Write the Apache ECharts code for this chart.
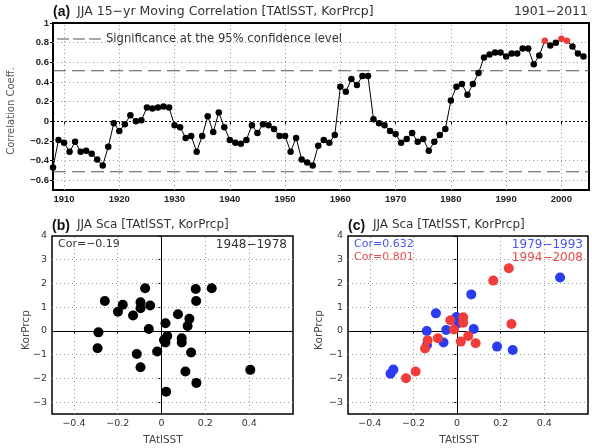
<!DOCTYPE html>
<html>
<head>
<meta charset="utf-8">
<script src="https://cdn.jsdelivr.net/npm/echarts@6/dist/echarts.min.js"></script>
<style>
  html, body { margin: 0; padding: 0; background: #fff; }
  #chart { width: 592px; height: 448px; }
</style>
</head>
<body>
<div id="chart"></div>
<script>
// ---- (a) JJA 15-yr moving correlation, centred years ----
const firstYear = 1908;
const movingCorr = [
  -0.47, -0.19, -0.22, -0.31, -0.21, -0.31, -0.30, -0.33, -0.39, -0.45,  // 1908-1917
  -0.26, -0.02, -0.10, -0.03,  0.06,  0.00,  0.01,  0.14,  0.13,  0.14,  // 1918-1927
   0.15,  0.14, -0.04, -0.06, -0.17, -0.15, -0.31, -0.15,  0.05, -0.11,  // 1928-1937
   0.09, -0.06, -0.19, -0.22, -0.23, -0.19, -0.04, -0.12, -0.03, -0.04,  // 1938-1947
  -0.08, -0.15, -0.15, -0.31, -0.17, -0.39, -0.42, -0.45, -0.25, -0.19,  // 1948-1957
  -0.22, -0.14,  0.35,  0.30,  0.43,  0.37,  0.46,  0.46,  0.02, -0.02,  // 1958-1967
  -0.04, -0.10, -0.13, -0.22, -0.18, -0.12, -0.21, -0.18, -0.30, -0.21,  // 1968-1977
  -0.14, -0.08,  0.21,  0.35,  0.38,  0.27,  0.38,  0.49,  0.65,  0.68,  // 1978-1987
   0.70,  0.70,  0.66,  0.69,  0.69,  0.74,  0.74,  0.58,  0.67,  0.82,  // 1988-1997
   0.77,  0.80,  0.84,  0.82,  0.76,  0.69,  0.66                         // 1998-2004
];
const highlightYears = [1997, 2000, 2001];
const significance = 0.514;
const yearTicks = [1910, 1920, 1930, 1940, 1950, 1960, 1970, 1980, 1990, 2000];
const corrTicks = [-0.6, -0.4, -0.2, 0, 0.2, 0.4, 0.6, 0.8, 1];

// ---- (b) scatter 1948-1978 : [TAtlSST, KorPrcp] ----
const scatter4878 = [
  [-0.259, 1.26], [-0.288, -0.06], [-0.292, -0.73], [-0.199, 0.81], [-0.177, 1.10],
  [-0.130, 0.65], [-0.096, 1.21], [-0.096, 0.96], [-0.075, 1.80], [-0.052, 1.07],
  [-0.058, 0.08], [-0.113, -0.97], [-0.096, -1.53], [-0.020, -0.87], [0.018, 0.32],
  [0.011, -0.38], [0.026, -0.21], [0.018, -0.49], [0.021, -2.56], [0.075, 0.70],
  [0.092, -0.31], [0.092, -0.49], [0.127, 0.51], [0.119, 0.21], [0.135, -0.91],
  [0.109, -1.71], [0.156, 1.77], [0.158, 1.26], [0.159, -2.19], [0.229, 1.80],
  [0.405, -1.64]
];

// ---- (c) scatter 1979-1993 (blue) and 1994-2008 (red) ----
const scatter7993 = [
  [-0.305, -1.80], [-0.292, -1.63], [-0.139, 0.00], [-0.138, -0.59], [-0.097, 0.74],
  [-0.062, -0.49], [-0.050, 0.04], [-0.003, 0.59], [0.005, 0.32], [0.020, 0.45],
  [0.065, 1.54], [0.076, 0.08], [0.183, -0.66], [0.255, -0.80], [0.472, 2.25]
];
const scatter9408 = [
  [-0.234, -1.99], [-0.190, -1.71], [-0.147, -0.74], [-0.135, -0.39], [-0.088, -0.31],
  [-0.031, 0.45], [-0.014, 0.06], [0.017, -0.45], [0.028, 0.58], [0.028, 0.35],
  [0.051, -0.21], [0.085, -0.52], [0.166, 2.12], [0.237, 2.64], [0.249, 0.29]
];
const sstTicks = [-0.4, -0.2, 0, 0.2, 0.4];
const prcpTicks = [-3, -2, -1, 0, 1, 2, 3, 4];

const BLUE = '#2a3cf2';
const RED = '#f23c3c';
const FONT = 'DejaVu Sans';
const SIG_NAME = 'Significance at the 95% confidence level';
const minus = v => String(v).replace('-', '\u2212');

const corrData = movingCorr.map((v, i) => {
  const yr = firstYear + i;
  const item = { value: [yr, v] };
  if (highlightYears.includes(yr)) item.itemStyle = { color: RED };
  return item;
});

const dotted = { color: '#9a9a9a', type: [1, 3], width: 1 };

// reference lines (grid, zero lines) drawn as markLines on empty helper series,
// kept underneath the data marks
function gridLines(idx, xs, ys, style) {
  return {
    type: 'line', xAxisIndex: idx, yAxisIndex: idx, data: [], silent: true, z: 1,
    markLine: {
      z: 1, symbol: 'none', silent: true, animation: false, label: { show: false },
      lineStyle: style,
      data: xs.map(v => ({ xAxis: v })).concat(ys.map(v => ({ yAxis: v })))
    }
  };
}

function sigLine(level) {
  return {
    name: SIG_NAME, type: 'line', xAxisIndex: 0, yAxisIndex: 0,
    symbol: 'none', silent: true, z: 2,
    data: [[1908, level], [2005, level]],
    lineStyle: { color: '#555', width: 1.2, type: [13, 6] }, itemStyle: { color: '#555' }
  };
}

const topLabel = { fontFamily: 'Liberation Sans', fontWeight: 'bold', fontSize: 9.5, color: '#222' };
const scLabel = { fontFamily: FONT, fontSize: 9.5, color: '#333' };

function valueAxis(grid, min, max, ticks, label, margin) {
  return {
    gridIndex: grid, type: 'value', min, max, splitLine: { show: false },
    axisLine: { show: false },
    axisTick: { show: true, length: 3, customValues: ticks, lineStyle: { color: '#000' } },
    axisLabel: { customValues: ticks, margin, formatter: minus, ...label }
  };
}

const option = {
  animation: false,
  backgroundColor: '#fff',
  grid: [
    { left: 53, top: 23, width: 536, height: 167, show: true, borderColor: '#000', borderWidth: 2, backgroundColor: 'transparent' },
    { left: 52, top: 236, width: 241, height: 178, show: true, borderColor: '#000', borderWidth: 1.5, backgroundColor: 'transparent' },
    { left: 348, top: 236, width: 240, height: 178, show: true, borderColor: '#000', borderWidth: 1.5, backgroundColor: 'transparent' }
  ],
  xAxis: [
    valueAxis(0, 1908, 2005, yearTicks, topLabel, 4),
    valueAxis(1, -0.5, 0.6, sstTicks, scLabel, 5),
    valueAxis(2, -0.5, 0.6, sstTicks, scLabel, 5)
  ],
  yAxis: [
    valueAxis(0, -0.7, 1, corrTicks, topLabel, 4),
    valueAxis(1, -3.5, 4, prcpTicks, scLabel, 5),
    valueAxis(2, -3.5, 4, prcpTicks, scLabel, 5)
  ],
  legend: {
    left: 57, top: 33, padding: 0, itemWidth: 44, itemHeight: 1.4, itemGap: 6,
    data: [{ name: SIG_NAME, icon: 'path://M0,0H12V1H0Z M16,0H28V1H16Z M32,0H44V1H32Z' }],
    itemStyle: { color: '#555' },
    textStyle: { fontFamily: FONT, fontSize: 11.6, color: '#333' }
  },
  series: [
    gridLines(0, yearTicks, corrTicks.filter(v => v !== 0 && v !== 1), dotted),
    gridLines(0, [], [0], { color: '#111', type: [2, 2], width: 1 }),
    gridLines(1, sstTicks.filter(v => v !== 0), prcpTicks.filter(v => v !== 0 && v !== 4), dotted),
    gridLines(1, [0], [0], { color: '#000', type: 'solid', width: 1 }),
    gridLines(2, sstTicks.filter(v => v !== 0), prcpTicks.filter(v => v !== 0 && v !== 4), dotted),
    gridLines(2, [0], [0], { color: '#000', type: 'solid', width: 1 }),
    sigLine(significance),
    sigLine(-significance),
    {
      name: 'corr', type: 'line', xAxisIndex: 0, yAxisIndex: 0, z: 3,
      data: corrData, symbol: 'circle', symbolSize: 6.5, showSymbol: true,
      lineStyle: { color: '#000', width: 1 }, itemStyle: { color: '#000', opacity: 1 }
    },
    {
      name: '1948-1978', type: 'scatter', xAxisIndex: 1, yAxisIndex: 1, z: 3,
      data: scatter4878, symbol: 'circle', symbolSize: 10, itemStyle: { color: '#000', opacity: 1 }
    },
    {
      name: '1979-1993', type: 'scatter', xAxisIndex: 2, yAxisIndex: 2, z: 3,
      data: scatter7993, symbol: 'circle', symbolSize: 10, itemStyle: { color: BLUE, opacity: 1 }
    },
    {
      name: '1994-2008', type: 'scatter', xAxisIndex: 2, yAxisIndex: 2, z: 4,
      data: scatter9408, symbol: 'circle', symbolSize: 10, itemStyle: { color: RED, opacity: 1 }
    }
  ],
  graphic: [
    // panel (a) heading
    { type: 'text', left: 53, top: 5, style: { text: '(a)', font: 'bold 14px "Liberation Sans"', fill: '#111' } },
    { type: 'text', left: 77, top: 5, style: { text: 'JJA 15\u2212yr Moving Correlation [TAtlSST, KorPrcp]', font: '12.5px "DejaVu Sans"', fill: '#333' } },
    { type: 'text', right: 4, top: 5, style: { text: '1901\u22122011', font: '12.5px "DejaVu Sans"', fill: '#333' } },
    { type: 'text', x: 11, y: 111, rotation: Math.PI / 2, style: { text: 'Correlation Coeff.', font: '10px "DejaVu Sans"', fill: '#555', align: 'center', verticalAlign: 'middle' } },
    // panel (b)
    { type: 'text', left: 52, top: 219, style: { text: '(b)', font: 'bold 14px "Liberation Sans"', fill: '#111' } },
    { type: 'text', left: 77, top: 219, style: { text: 'JJA Sca [TAtlSST, KorPrcp]', font: '12px "DejaVu Sans"', fill: '#333' } },
    { type: 'text', left: 58, top: 239, style: { text: 'Cor=\u22120.19', font: '11px "DejaVu Sans"', fill: '#333' } },
    { type: 'text', right: 305, top: 239, style: { text: '1948\u22121978', font: '12px "DejaVu Sans"', fill: '#333' } },
    { type: 'text', x: 26, y: 330, rotation: Math.PI / 2, style: { text: 'KorPrcp', font: '10.5px "DejaVu Sans"', fill: '#444', align: 'center', verticalAlign: 'middle' } },
    { type: 'text', x: 163, y: 440, style: { text: 'TAtlSST', font: '10.5px "DejaVu Sans"', fill: '#444', align: 'center', verticalAlign: 'middle' } },
    // panel (c)
    { type: 'text', left: 348, top: 219, style: { text: '(c)', font: 'bold 14px "Liberation Sans"', fill: '#111' } },
    { type: 'text', left: 373, top: 219, style: { text: 'JJA Sca [TAtlSST, KorPrcp]', font: '12px "DejaVu Sans"', fill: '#333' } },
    { type: 'text', left: 354, top: 239, style: { text: 'Cor=0.632', font: '11px "DejaVu Sans"', fill: '#4557f2' } },
    { type: 'text', left: 354, top: 252, style: { text: 'Cor=0.801', font: '11px "DejaVu Sans"', fill: '#f24a4a' } },
    { type: 'text', right: 9, top: 239, style: { text: '1979\u22121993', font: '12px "DejaVu Sans"', fill: '#4557f2' } },
    { type: 'text', right: 9, top: 252, style: { text: '1994\u22122008', font: '12px "DejaVu Sans"', fill: '#f24a4a' } },
    { type: 'text', x: 319, y: 330, rotation: Math.PI / 2, style: { text: 'KorPrcp', font: '10.5px "DejaVu Sans"', fill: '#444', align: 'center', verticalAlign: 'middle' } },
    { type: 'text', x: 459, y: 440, style: { text: 'TAtlSST', font: '10.5px "DejaVu Sans"', fill: '#444', align: 'center', verticalAlign: 'middle' } }
  ]
};

const chart = echarts.init(document.getElementById('chart'), null, { renderer: 'canvas' });
chart.setOption(option);
</script>
</body>
</html>
